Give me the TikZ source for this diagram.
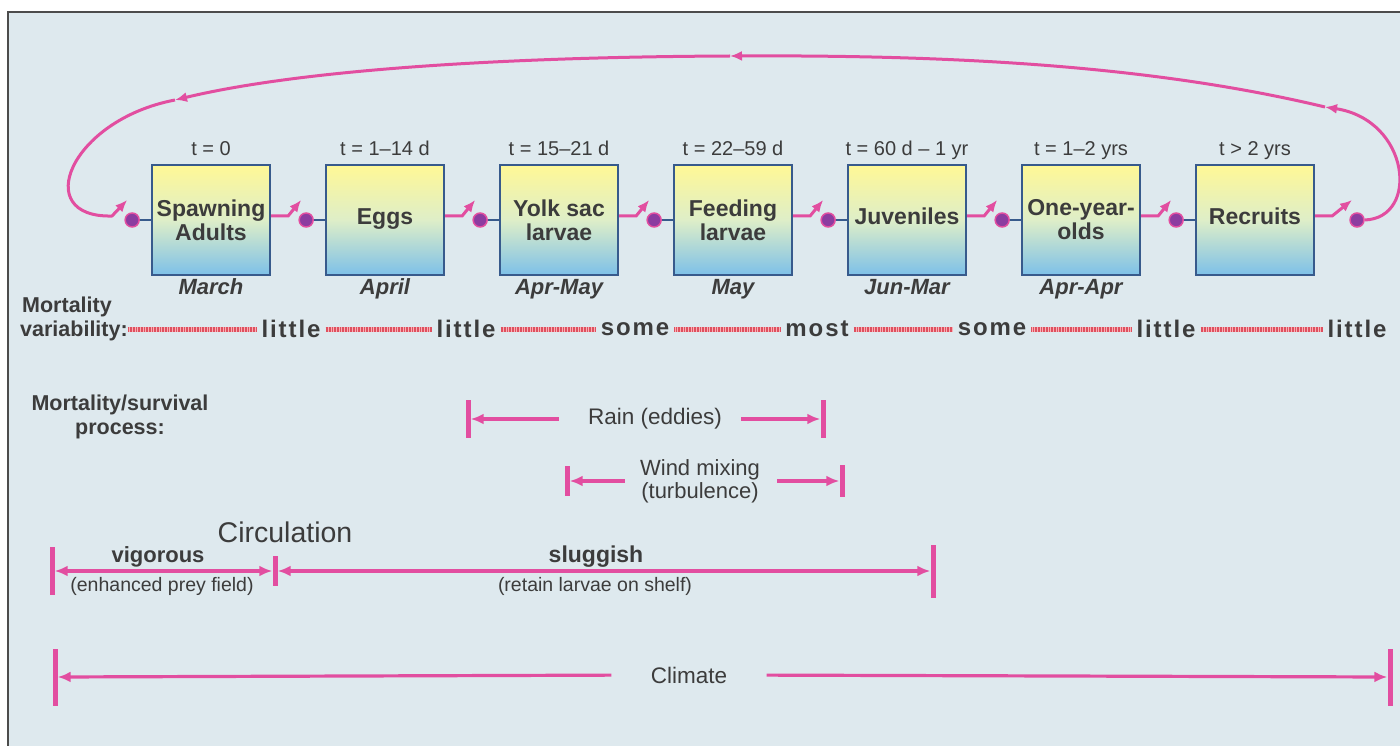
\documentclass[tikz,border=0pt]{standalone}
\usepackage{fontspec}
\setmainfont{Liberation Sans}
\usetikzlibrary{arrows.meta,positioning}

\definecolor{bgblue}{RGB}{222,233,238}
\definecolor{pinkline}{RGB}{226,78,160}
\definecolor{dotpurple}{RGB}{140,60,160}
\definecolor{varred}{RGB}{222,80,95}
\definecolor{varlight}{RGB}{250,175,180}
\definecolor{boxedge}{RGB}{55,90,140}
\definecolor{boxtop}{RGB}{255,248,150}
\definecolor{boxmid}{RGB}{222,238,200}
\definecolor{boxbot}{RGB}{125,192,232}
\definecolor{ink}{RGB}{60,60,60}

\tikzset{
  stage/.style={draw=boxedge, line width=2.2pt, minimum width=118pt, minimum height=110pt,
    inner sep=0pt, top color=boxtop, bottom color=boxbot, middle color=boxmid,
    align=center, font=\fontsize{23}{24}\selectfont\bfseries},
  tlab/.style={font=\fontsize{20}{22}\selectfont, text height=14pt, text depth=4pt, inner sep=1pt},
  month/.style={font=\fontsize{22}{24}\selectfont\bfseries\itshape, text height=16pt, text depth=4pt, inner sep=1pt},
  plug/.style={circle, fill=dotpurple, draw=pinkline, line width=1.5pt, minimum size=14pt, inner sep=0pt},
  stem/.style={draw=boxedge, line width=2.2pt},
  link/.style={draw=pinkline, line width=3pt, -{Latex[length=12pt,width=10pt]}},
  varword/.style={font=\fontsize{24}{26}\selectfont\bfseries\addfontfeature{LetterSpace=8}, inner xsep=5pt},
  varline/.style={draw=varred, line width=5pt, dash pattern=on 0.8pt off 0.8pt,
    preaction={draw=varlight, solid, line width=5pt}},
  sidelab/.style={font=\fontsize{21.5}{24}\selectfont\bfseries, inner sep=0pt},
  proc/.style={font=\fontsize{22.5}{24}\selectfont, align=center},
  stopbar/.style={fill=pinkline, minimum width=5pt, inner sep=0pt},
  span/.style={draw=pinkline, line width=3.2pt, -{Latex[length=13pt,width=11pt]}},
  twospan/.style={draw=pinkline, line width=3.2pt, {Latex[length=13pt,width=11pt]}-{Latex[length=13pt,width=11pt]}},
}

\begin{document}
\begin{tikzpicture}[x=1pt,y=-1pt, every node/.style={text=ink}]
  \useasboundingbox (0,0) rectangle (1400,746);
  \fill[white] (0,0) rectangle (1400,746);
  \fill[bgblue] (8,12) rectangle (1400,746);
  \draw[line width=1.5pt, black!70] (1400,12) -- (8,12) -- (8,746);

  % life stages
  \foreach \i/\x/\txt/\tm/\mon in {
    1/211/{Spawning\\Adults}/{t = 0}/March,
    2/385/{\raisebox{7pt}{Eggs}}/{t = 1--14 d}/April,
    3/559/{Yolk sac\\larvae}/{t = 15--21 d}/Apr-May,
    4/733/{Feeding\\larvae}/{t = 22--59 d}/May,
    5/907/{\raisebox{7pt}{Juveniles}}/{t = 60 d -- 1 yr}/Jun-Mar,
    6/1081/{One-year-\\olds}/{t = 1--2 yrs}/Apr-Apr,
    7/1255/{\raisebox{7pt}{Recruits}}/{t > 2 yrs}/{}}
  {
    \node[stage] (b\i) at (\x,220) {\txt};
    \node[tlab, above=3pt of b\i] (t\i) {\tm};
    \node[month, below=1pt of b\i] (m\i) {\mon};
    \node[plug, left=11pt of b\i] (d\i) {};
    \draw[stem] (d\i) -- (b\i);
  }
  \node[plug] (d8) at (1357,220) {};

  % switches between stages
  \foreach \i [count=\j from 2] in {1,...,7} {
    \coordinate (tip\j) at ([shift={(-5,-20)}]d\j.center);
    \draw[link] ([yshift=4pt]b\i.east) -- ++(17,0) -- (tip\j);
  }

  % loop back to the spawners
  \coordinate (tip1) at ([shift={(-5,-20)}]d1.center);
  \coordinate (loopA) at (1325,107);
  \coordinate (loopB) at (730,56);
  \coordinate (loopC) at (175,100);
  \draw[link] (d8.east) .. controls (1420,218) and (1410,120) .. (loopA);
  \draw[link] (loopA) .. controls (1150,65) and (950,55) .. (loopB);
  \draw[link] (loopB) .. controls (500,57) and (300,70) .. (loopC);
  \draw[link] (loopC) .. controls (70,120) and (30,218) .. (112,216) -- (tip1);

  % mortality variability
  \node[sidelab, anchor=base west] (mort) at (22,312) {Mortality};
  \node[sidelab, anchor=base west] (varlab) at (20,336) {variability:};
  \foreach \i/\x/\w in {1/291/little, 2/466/little, 3/635/some, 4/817/most,
                        5/992/some, 6/1166/little, 7/1357/little}
    \node[varword] (v\i) at (\x,329) {\w};
  \draw[varline] (varlab.east |- v1.west) -- (v1.west);
  \foreach \i [count=\j from 2] in {1,...,6}
    \draw[varline] (v\i.east) -- (v\j.west);

  % mortality/survival processes
  \node[sidelab, align=center] (proclab) at (120,417) {Mortality/survival\\process:};

  \node[proc] (rain) at (655,419) {Rain (eddies)};
  \node[stopbar, minimum height=38pt] (rainL) at (468,419) {};
  \node[stopbar, minimum height=38pt] (rainR) at (823,419) {};
  \draw[span, shorten <=26pt] (rain.west) -- (rainL.east);
  \draw[span, shorten <=16pt] (rain.east) -- (rainR.west);

  \node[proc, font=\fontsize{22}{23}\selectfont] (wind) at (700,481) {Wind mixing\\(turbulence)};
  \node[stopbar, minimum height=30pt] (windL) at (567,481) {};
  \node[stopbar, minimum height=32pt] (windR) at (842,481) {};
  \draw[span, shorten <=12pt] (wind.west) -- (windL.east);
  \draw[span, shorten <=14pt] (wind.east) -- (windR.west);

  % circulation
  \node[font=\fontsize{28.5}{30}\selectfont] (circ) at (285,532) {Circulation};
  \node[stopbar, minimum height=48pt] (cL) at (52,571) {};
  \node[stopbar, minimum height=30pt] (cM) at (275,571) {};
  \node[stopbar, minimum height=53pt] (cR) at (933,571) {};
  \draw[twospan] (cL.east) -- (cM.west);
  \draw[twospan] (cM.east) -- (cR.west);
  \node[font=\fontsize{22}{24}\selectfont\bfseries] (vig) at (158,557) {vigorous};
  \node[font=\fontsize{19.5}{20}\selectfont] (vigx) at (162,586) {(enhanced prey field)};
  \node[font=\fontsize{23}{24}\selectfont\bfseries] (slug) at (596,557) {sluggish};
  \node[font=\fontsize{19.5}{20}\selectfont] (slugx) at (595,586) {(retain larvae on shelf)};

  % climate
  \node[proc] (clim) at (689,675) {Climate};
  \node[stopbar, minimum height=57pt] (clL) at (55,677) {};
  \node[stopbar, minimum height=57pt] (clR) at (1390,677) {};
  \draw[span, shorten <=36pt] (clim.west) -- (clL.east);
  \draw[span, shorten <=36pt] (clim.east) -- (clR.west);
\end{tikzpicture}
\end{document}
